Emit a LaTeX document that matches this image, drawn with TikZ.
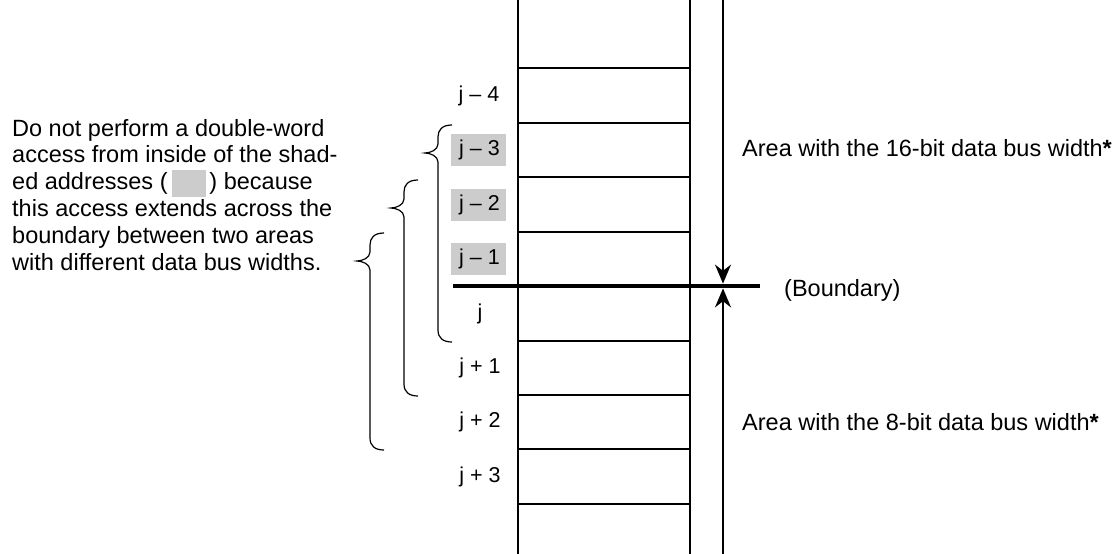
\documentclass[tikz,border=0pt]{standalone}
\usepackage{fontspec}
\setmainfont{Liberation Sans}
\usetikzlibrary{arrows.meta}
\definecolor{shade}{gray}{0.8}
\tikzset{
  addr/.style={font=\fontsize{21.5}{24}\selectfont, inner sep=0pt, minimum width=55pt, minimum height=32pt},
  shaded/.style={addr, fill=shade},
  note/.style={font=\fontsize{23.5}{26.8}\selectfont, align=left, inner sep=0pt},
  cellline/.style={line width=1.7pt},
  brace/.style={line width=1.2pt},
  arrowtip/.style={-{Stealth[length=19pt,width=16pt]}, shorten >=2.4pt}
}

\begin{document}
\begin{tikzpicture}[x=1pt,y=-1pt]
  \useasboundingbox (0,0) rectangle (1120,554);

  %memory column
  \draw[cellline] (518,0) -- (518,554);
  \draw[cellline] (690,0) -- (690,554);
  \foreach \y in {68,123,177,232,341,395,449,504}
    \draw[cellline] (518,\y) -- (690,\y);

  %addresses
  \node[addr] (jm4) at (479,95.5) {j -- 4};
  \node[shaded] (jm3) at (478,150) {\hspace{3pt}j -- 3};
  \node[shaded] (jm2) at (478,204.5) {\hspace{3pt}j -- 2};
  \node[shaded] (jm1) at (478,259) {\hspace{3pt}j -- 1};
  \node[addr] (j0) at (480,313.5) {j};
  \node[addr] (jp1) at (480,368) {j + 1};
  \node[addr] (jp2) at (480,422) {j + 2};
  \node[addr] (jp3) at (480,476.5) {j + 3};

  %boundary
  \draw[line width=4.8pt] (453,286) -- (760,286);
  \coordinate (bnd) at (723,286);
  \coordinate (bustop) at (723,0);
  \coordinate (busbot) at (723,554);
  \draw[cellline, arrowtip] (bustop) -- (bnd);
  \draw[cellline, arrowtip] (busbot) -- (bnd);

  %braces
  \foreach \x/\t/\b in {438/125/342, 404/180/396, 370/233/450}
    \draw[brace] (\x+14,\t) .. controls (\x+4,\t) and (\x,\t+5) .. (\x,\t+12)
      -- (\x,\t+19) .. controls (\x,\t+25) and (\x-8,\t+28) .. (\x-13,\t+28)
      .. controls (\x-8,\t+28) and (\x,\t+31) .. (\x,\t+37)
      -- (\x,\b-12) .. controls (\x,\b-4) and (\x+5,\b) .. (\x+14,\b);

  %texts
  \node[note, anchor=base west] (warn) at (12,270) {Do not perform a double-word\\
    access from inside of the shad-\\
    ed addresses (\,\smash{\color{shade}\rule[-7.4pt]{34pt}{27pt}}\,) because\\
    this access extends across the\\
    boundary between two areas\\
    with different data bus widths.};
  \node[note, anchor=base west] (wide) at (742,156) {Area with the 16-bit data bus width\textbf{*}};
  \node[note, anchor=base west] (bname) at (784,296) {(Boundary)};
  \node[note, anchor=base west] (narrow) at (742,430) {Area with the 8-bit data bus width\textbf{*}};
\end{tikzpicture}
\end{document}
